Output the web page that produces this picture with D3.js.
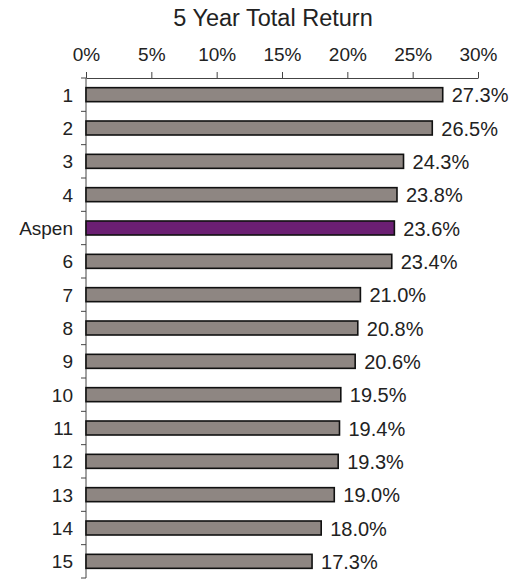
<!DOCTYPE html>
<html>
  <head>
    <meta charset="utf-8" />
    <title>5 Year Total Return</title>
    <script src="https://d3js.org/d3.v7.min.js"></script>
    <style>
      body { margin: 0; background: #fff; font-family: Arial, "Liberation Sans", sans-serif; }
      text { fill: #222; }
    </style>
  </head>
  <body>
    <svg id="chart" width="522" height="582"></svg>
    <script>
      // Data
      const categories = ['1', '2', '3', '4', 'Aspen', '6', '7', '8', '9', '10', '11', '12', '13', '14', '15'];
      const returns = [27.3, 26.5, 24.3, 23.8, 23.6, 23.4, 21.0, 20.8, 20.6, 19.5, 19.4, 19.3, 19.0, 18.0, 17.3];
      const tickValues = [0, 5, 10, 15, 20, 25, 30];
      const highlight = 'Aspen';

      const width = 522, height = 582;
      const margin = { top: 78, right: 44, bottom: 4, left: 86 };

      const svg = d3.select('#chart');

      const x = d3.scaleLinear()
        .domain([0, 30])
        .range([margin.left, width - margin.right]);

      const y = d3.scaleBand()
        .domain(categories)
        .range([margin.top, height - margin.bottom])
        .paddingInner(0.58)
        .paddingOuter(0.29);

      // Title
      svg.append('text')
        .attr('x', 273)
        .attr('y', 26)
        .attr('text-anchor', 'middle')
        .style('font-size', '23.5px')
        .text('5 Year Total Return');

      // Top axis
      const xAxis = svg.append('g')
        .attr('transform', `translate(0,${margin.top})`)
        .call(d3.axisTop(x).tickValues(tickValues).tickFormat(d => d + '%')
          .tickSize(6).tickSizeOuter(0).tickPadding(11));
      xAxis.select('.domain').attr('stroke', '#444');
      xAxis.selectAll('.tick line').attr('stroke', '#444');
      xAxis.selectAll('.tick text').style('font-size', '19px').attr('fill', '#222');

      // Left axis: line with small ticks at band boundaries
      const step = y.step();
      const yStart = margin.top;
      const yEnd = margin.top + step * categories.length;
      svg.append('line')
        .attr('x1', x(0)).attr('x2', x(0))
        .attr('y1', yStart).attr('y2', yEnd)
        .attr('stroke', '#444');
      svg.selectAll('.ytick')
        .data(d3.range(categories.length + 1))
        .enter().append('line')
          .attr('class', 'ytick')
          .attr('x1', x(0) - 5).attr('x2', x(0))
          .attr('y1', i => yStart + i * step)
          .attr('y2', i => yStart + i * step)
          .attr('stroke', '#444');

      // Category labels
      svg.selectAll('.cat')
        .data(categories)
        .enter().append('text')
          .attr('class', 'cat')
          .attr('x', x(0) - 13)
          .attr('y', d => y(d) + y.bandwidth() / 2)
          .attr('dy', '0.36em')
          .attr('text-anchor', 'end')
          .style('font-size', '19px')
          .text(d => d);

      // Bars
      svg.selectAll('.bar')
        .data(categories)
        .enter().append('rect')
          .attr('class', 'bar')
          .attr('x', x(0))
          .attr('y', d => y(d))
          .attr('width', (d, i) => x(returns[i]) - x(0))
          .attr('height', y.bandwidth())
          .attr('fill', d => d === highlight ? '#6b1f73' : '#8e8682')
          .attr('stroke', '#111')
          .attr('stroke-width', 1.6);

      // Value labels
      svg.selectAll('.val')
        .data(categories)
        .enter().append('text')
          .attr('class', 'val')
          .attr('x', (d, i) => x(returns[i]) + 9)
          .attr('y', d => y(d) + y.bandwidth() / 2)
          .attr('dy', '0.38em')
          .style('font-size', '20px')
          .text((d, i) => returns[i].toFixed(1) + '%');
    </script>
  </body>
</html>
